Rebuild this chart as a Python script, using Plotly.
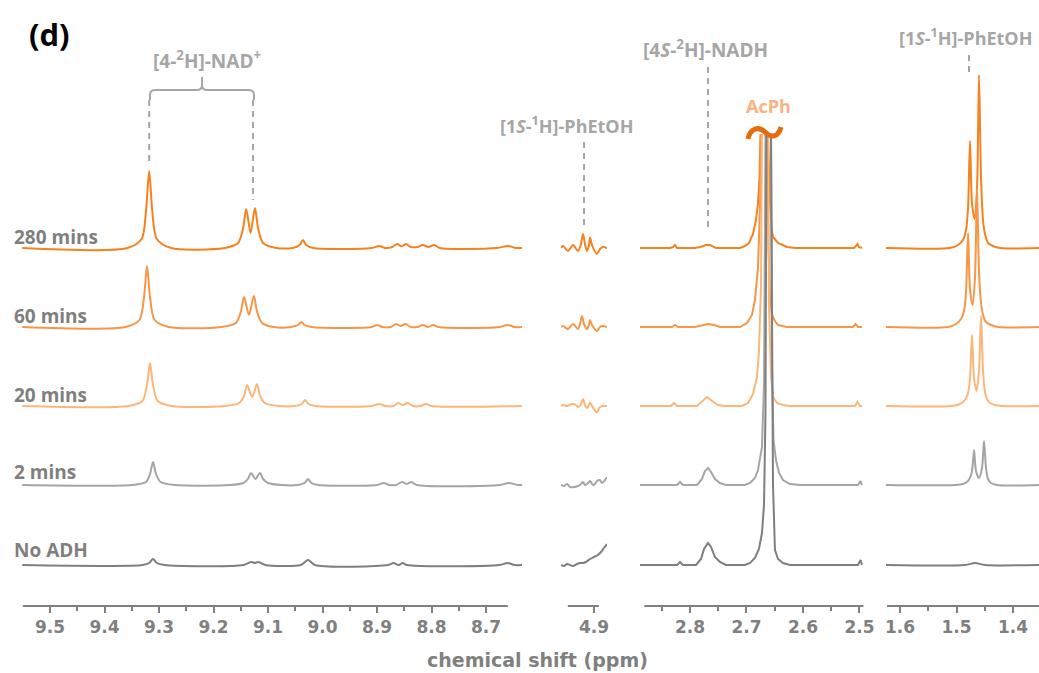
import plotly.graph_objects as go

W, H = 1039, 673

# ---------------- data (chemical shift in ppm, intensity in arbitrary units) ----------------
TRACE_LABELS = ["280 mins", "60 mins", "20 mins", "2 mins", "No ADH"]
STACK_OFFSETS = [358, 279, 200, 121, 41]
TRACE_COLORS = ["#F5821F", "#F79646", "#FBB679", "#A5A5A5", "#7F7F7F"]

# Panel 1: 9.55 - 8.63 ppm
P1_X_280 = [9.551, 9.358, 9.332, 9.3238, 9.318, 9.3125, 9.304, 9.278, 9.18, 9.155, 9.146, 9.140, 9.132, 9.124, 9.118, 9.109, 9.085, 9.055, 9.042, 9.036, 9.030, 9.017, 8.91, 8.896, 8.885, 8.872, 8.863, 8.855, 8.847, 8.838, 8.826, 8.816, 8.806, 8.795, 8.785, 8.68, 8.66, 8.645, 8.634]
P1_Y_280 = [0, 0, 9, 38, 77, 38, 9, 0, 0, 5, 19, 39, 15, 40, 19, 5, 0, 0, 3, 8, 3, 0, 0, 2, 0, 1, 4, 1.5, 4, 1, 1, 3, 1, 3, 0, 0, 2, 0, 0]
P1_X_60 = [9.551, 9.362, 9.336, 9.3275, 9.322, 9.3165, 9.308, 9.282, 9.185, 9.159, 9.150, 9.144, 9.135, 9.126, 9.120, 9.111, 9.090, 9.058, 9.045, 9.039, 9.033, 9.020, 8.91, 8.900, 8.890, 8.875, 8.865, 8.857, 8.848, 8.838, 8.826, 8.816, 8.806, 8.797, 8.787, 8.675, 8.661, 8.648, 8.634]
P1_Y_60 = [0, 0, 7, 30, 61, 30, 7, 0, 0, 4, 15, 30, 12, 31, 15, 4, 0, 0, 2, 5, 2, 0, 0, 2, 0, 0, 3, 1, 3, 0, 0, 2, 0, 2, 0, 0, 2, 0, 0]
P1_X_20 = [9.551, 9.356, 9.3305, 9.322, 9.3165, 9.311, 9.3025, 9.277, 9.18, 9.153, 9.144, 9.1385, 9.129, 9.1202, 9.1145, 9.106, 9.08, 9.051, 9.038, 9.032, 9.026, 9.013, 8.91, 8.896, 8.885, 8.87, 8.861, 8.853, 8.844, 8.834, 8.82, 8.81, 8.8, 8.634]
P1_Y_20 = [0, 0, 5, 21, 43, 21, 5, 0, 0, 3, 10, 21, 9, 22, 10, 3, 0, 0, 2, 6, 2, 0, 0, 2, 0, 0, 3, 1, 3, 0, 0, 2, 0, 0]
P1_X_2 = [9.551, 9.35, 9.324, 9.3165, 9.311, 9.3055, 9.297, 9.27, 9.17, 9.145, 9.137, 9.1312, 9.123, 9.1147, 9.109, 9.1, 9.075, 9.046, 9.033, 9.0266, 9.0205, 9.007, 8.9, 8.888, 8.877, 8.865, 8.854, 8.846, 8.837, 8.827, 8.675, 8.658, 8.642, 8.634]
P1_Y_2 = [0, 0, 3, 11, 23, 11, 3, 0, 0, 2, 6, 12, 6, 12, 6, 2, 0, 0, 2, 6, 2, 0, 0, 2, 0, 0, 3, 1, 3, 0, 0, 2, 0, 0]
P1_X_0 = [9.551, 9.33, 9.318, 9.311, 9.304, 9.29, 9.145, 9.131, 9.124, 9.118, 9.105, 9.04, 9.0266, 9.014, 8.88, 8.87, 8.86, 8.853, 8.845, 8.675, 8.661, 8.648, 8.634]
P1_Y_0 = [0, 0, 2, 6, 2, 0, 0, 3, 2, 3, 0, 0, 5, 0, 0, 2, 0, 2, 0, 0, 2, 0, 0]

# Panel 2: ~4.96 - 4.88 ppm
P2_X_280 = [4.9606, 4.9569, 4.9477, 4.9385, 4.9294, 4.9239, 4.9202, 4.9165, 4.9128, 4.9092, 4.9073, 4.9037, 4.8945, 4.889, 4.8835, 4.8761]
P2_Y_280 = [0, 2, -3, 3, -3, 4, 14, 4, -3, 3, 10.6, 3, -6, -1, 1, 0]
P2_X_60 = [4.9606, 4.9569, 4.9477, 4.9385, 4.9294, 4.9257, 4.922, 4.9183, 4.9128, 4.9092, 4.9073, 4.9037, 4.8945, 4.889, 4.8835, 4.8761]
P2_Y_60 = [0, 1, -2, 3, -2, 3, 11, 3, -2, 2, 7, 2, -4, 0, 1, 0]
P2_X_20 = [4.9606, 4.9569, 4.9495, 4.9404, 4.933, 4.9294, 4.9239, 4.9202, 4.9165, 4.9128, 4.9092, 4.9073, 4.9037, 4.8945, 4.889, 4.8835, 4.8761]
P2_Y_20 = [0, 1, 0, 2, 1, -1, 2, 7, 1, -2, 1, 3.5, 0, -6.5, -1, 0, 0]
P2_X_2 = [4.9606, 4.955, 4.9495, 4.944, 4.9367, 4.9294, 4.9239, 4.9202, 4.9165, 4.911, 4.9073, 4.9037, 4.9, 4.8945, 4.889, 4.8853, 4.8798, 4.8761]
P2_Y_2 = [0, -1, 1, -2, -2, -1, 1, 3, 0, 2, 4, 1, 0, 4, 5, 2, 5, 8]
P2_X_0 = [4.9606, 4.955, 4.9495, 4.944, 4.9385, 4.9312, 4.9257, 4.9202, 4.9147, 4.9073, 4.9, 4.8927, 4.8872, 4.8817, 4.8761]
P2_Y_0 = [0, -1, 1, 0, -1, 1, 2, 2, 3, 6, 8, 10, 13, 17, 21]

# Panel 3: 2.89 - 2.49 ppm (AcPh peak top is cut off in the original)
P3_X_280 = [2.8885, 2.8354, 2.8301, 2.8265, 2.823, 2.7912, 2.7823, 2.7717, 2.7646, 2.754, 2.7115, 2.7027, 2.6956, 2.6885, 2.6832, 2.6796, 2.677, 2.6752, None, 2.6619, 2.6584, 2.6558, 2.6531, 2.6442, 2.6283, 2.6142, 2.5097, 2.5062, 2.5035, 2.5009, 2.4956]
P3_Y_280 = [0, 0, 1, 3, 0, 0, 1, 3, 3, 0, 0, 2, 5, 14, 28, 45, 70, 114, None, 114, 45, 20, 11, 5, 1, 0, 0, 2, 4, 1, 0]
P3_X_60 = [2.8885, 2.8319, 2.8265, 2.8212, 2.7912, 2.7788, 2.7681, 2.7575, 2.7469, 2.7115, 2.6991, 2.6903, 2.685, 2.6796, 2.6761, 2.6743, None, 2.6637, 2.661, 2.6584, 2.6549, 2.6496, 2.6442, 2.6283, 2.5115, 2.5071, 2.5027, 2.4956]
P3_Y_60 = [0, 0, 2, 0, 0, 2, 3, 2, 0, 0, 4, 12, 27, 60, 120, 193, None, 193, 80, 30, 12, 6, 2, 0, 0, 3, 0, 0]
P3_X_20 = [2.8885, 2.8336, 2.8283, 2.823, 2.7876, 2.7788, 2.7699, 2.7611, 2.7504, 2.738, 2.708, 2.6973, 2.6885, 2.6814, 2.6779, 2.6743, 2.6726, None, 2.6619, 2.6602, 2.6566, 2.6531, 2.646, 2.6354, 2.623, 2.508, 2.5035, 2.4991, 2.4956]
P3_Y_20 = [0, 0, 3, 0, 0, 4, 9, 5, 1, 0, 0, 3, 12, 29, 55, 120, 272, None, 272, 100, 30, 9, 3, 1, 0, 0, 4, 0, 0]
P3_X_2 = [2.8885, 2.823, 2.8177, 2.8124, 2.7876, 2.7788, 2.7735, 2.7681, 2.7628, 2.7558, 2.7469, 2.7363, 2.7027, 2.6938, 2.685, 2.6796, 2.6726, 2.669, 2.6664, None, 2.6566, 2.6549, 2.6522, 2.6478, 2.6425, 2.6354, 2.623, 2.6053, 2.5027, 2.4982, 2.4956]
P3_Y_2 = [0, 0, 3, 0, 0, 6, 14, 17, 13, 6, 2, 0, 0, 2, 7, 15, 38, 100, 351, None, 351, 120, 45, 25, 12, 5, 1, 0, 0, 4, 0]
P3_X_0 = [2.8885, 2.823, 2.8177, 2.8124, 2.7894, 2.7805, 2.7752, 2.7681, 2.7628, 2.7558, 2.7469, 2.7363, 2.7027, 2.6938, 2.685, 2.6779, 2.6726, 2.669, 2.6664, 2.6646, None, 2.6566, 2.6549, 2.6531, 2.6496, 2.6442, 2.6354, 2.623, 2.5027, 2.4982, 2.4956]
P3_Y_0 = [0, 0, 3, 0, 0, 6, 16, 22, 18, 8, 3, 0, 0, 2, 7, 16, 32, 60, 150, 431, None, 431, 200, 80, 15, 6, 2, 0, 0, 5, 0]

# Panel 4: 1.62 - 1.35 ppm
P4_X_280 = [1.6248, 1.5115, 1.4973, 1.4885, 1.4832, 1.4796, 1.4761, 1.4726, 1.4681, 1.4637, 1.4602, 1.4566, 1.4531, 1.4496, 1.4442, 1.4354, 1.423, 1.354]
P4_Y_280 = [0, 0, 3, 8, 18, 40, 107, 45, 29, 60, 173, 70, 28, 14, 5, 2, 0, 0]
P4_X_60 = [1.6248, 1.515, 1.5009, 1.492, 1.4867, 1.4832, 1.4796, 1.4761, 1.4717, 1.4673, 1.4637, 1.4602, 1.4566, 1.4531, 1.4478, 1.4389, 1.4265, 1.354]
P4_Y_60 = [0, 0, 3, 8, 16, 35, 94, 38, 22, 50, 139, 55, 24, 12, 5, 2, 0, 0]
P4_X_20 = [1.6248, 1.508, 1.4938, 1.485, 1.4796, 1.4761, 1.4726, 1.469, 1.4646, 1.4602, 1.4566, 1.4531, 1.4496, 1.446, 1.4407, 1.4319, 1.4195, 1.354]
P4_Y_20 = [0, 0, 2, 6, 13, 28, 71, 28, 15, 35, 90, 35, 14, 7, 3, 1, 0, 0]
P4_X_2 = [1.6248, 1.5027, 1.4885, 1.4796, 1.4743, 1.4717, 1.469, 1.4655, 1.4602, 1.4549, 1.4513, 1.4478, 1.4442, 1.4389, 1.4283, 1.354]
P4_Y_2 = [0, 0, 1, 4, 10, 18, 35, 14, 7, 17, 44, 17, 6, 2, 0, 0]
P4_X_0 = [1.6248, 1.485, 1.4673, 1.4496, 1.354]
P4_Y_0 = [0, 0, 2, 0, 0]

# Axis definitions
P1_TICKS = [9.5, 9.4, 9.3, 9.2, 9.1, 9.0, 8.9, 8.8, 8.7]
P1_MINOR = [9.45, 9.35, 9.25, 9.15, 9.05, 8.95, 8.85, 8.75]
P2_TICKS = [4.9]
P3_TICKS = [2.8, 2.7, 2.6, 2.5]
P3_MINOR = [2.85, 2.75, 2.65, 2.55]
P4_TICKS = [1.6, 1.5, 1.4]
P4_MINOR = [1.55, 1.45]

PANELS = [
    dict(xs=[P1_X_280, P1_X_60, P1_X_20, P1_X_2, P1_X_0], ys=[P1_Y_280, P1_Y_60, P1_Y_20, P1_Y_2, P1_Y_0],
         dom=(22, 522), rng=(9.5514, 8.634), line=(9.55, 8.66), ticks=P1_TICKS, minor=P1_MINOR, shape="spline"),
    dict(xs=[P2_X_280, P2_X_60, P2_X_20, P2_X_2, P2_X_0], ys=[P2_Y_280, P2_Y_60, P2_Y_20, P2_Y_2, P2_Y_0],
         dom=(561, 607), rng=(4.9606, 4.8761), line=(4.948, 4.891), ticks=P2_TICKS, minor=[], shape="spline"),
    dict(xs=[P3_X_280, P3_X_60, P3_X_20, P3_X_2, P3_X_0], ys=[P3_Y_280, P3_Y_60, P3_Y_20, P3_Y_2, P3_Y_0],
         dom=(640, 864), rng=(2.8885, 2.492), line=(2.881, 2.493), ticks=P3_TICKS, minor=P3_MINOR, shape="linear"),
    dict(xs=[P4_X_280, P4_X_60, P4_X_20, P4_X_2, P4_X_0], ys=[P4_Y_280, P4_Y_60, P4_Y_20, P4_Y_2, P4_Y_0],
         dom=(886, 1039), rng=(1.6248, 1.354), line=(1.623, 1.354), ticks=P4_TICKS, minor=P4_MINOR, shape="spline"),
]

AXIS_GRAY = "#808080"
LABEL_GRAY = "#A6A6A6"


def px(x):
    return x / W


def py(y):
    return 1 - y / H


AXIS_Y_PX = 606

fig = go.Figure()
layout = dict(
    width=W, height=H, autosize=False,
    margin=dict(l=0, r=0, t=0, b=0, pad=0, autoexpand=False),
    paper_bgcolor="white", plot_bgcolor="white", showlegend=False,
    yaxis=dict(domain=[py(AXIS_Y_PX), 1], range=[0, AXIS_Y_PX], visible=False, fixedrange=True,
               automargin=False),
)
shapes = []
for i, p in enumerate(PANELS):
    xa = "x" if i == 0 else f"x{i + 1}"
    key = "xaxis" if i == 0 else f"xaxis{i + 1}"
    for k in range(len(TRACE_LABELS)):
        ys = [None if v is None else v + STACK_OFFSETS[k] for v in p["ys"][k]]
        fig.add_trace(go.Scatter(
            x=p["xs"][k], y=ys, mode="lines", xaxis=xa, yaxis="y",
            line=dict(color=TRACE_COLORS[k], width=2, shape=p["shape"], smoothing=0.8),
            connectgaps=False, hoverinfo="skip", name=TRACE_LABELS[k]))
    ax = dict(
        domain=[px(p["dom"][0]), px(p["dom"][1])], range=list(p["rng"]), anchor="y",
        showgrid=False, zeroline=False, showline=False, automargin=False,
        tickmode="array", tickvals=p["ticks"], ticktext=[f"{v:.1f}" for v in p["ticks"]],
        ticks="outside", ticklen=6, tickwidth=2, tickcolor=AXIS_GRAY,
        tickfont=dict(family="DejaVu Sans", size=17, color=AXIS_GRAY, weight="bold"),
        fixedrange=True,
    )
    if p["minor"]:
        ax["minor"] = dict(tickmode="array", tickvals=p["minor"], ticks="outside",
                           ticklen=4, tickwidth=2, tickcolor=AXIS_GRAY, showgrid=False)
    layout[key] = ax
    shapes.append(dict(type="line", xref=xa, yref="paper", x0=p["line"][0], x1=p["line"][1],
                       y0=py(AXIS_Y_PX), y1=py(AXIS_Y_PX), line=dict(color=AXIS_GRAY, width=2)))

# dashed assignment lines (x in ppm)
DASH = dict(color=LABEL_GRAY, width=2, dash="6px,5px")
for xa, xv, ya, yb in [("x", 9.318, 100, 165), ("x", 9.1275, 100, 200), ("x2", 4.9183, 142, 225),
                       ("x3", 2.7681, 67, 230), ("x4", 1.4779, 55, 76)]:
    shapes.append(dict(type="line", xref=xa, yref="paper", x0=xv, x1=xv, y0=py(ya), y1=py(yb), line=DASH))


def path(cmds):
    out = []
    for c in cmds:
        if isinstance(c, str):
            out.append(c)
        else:
            out.append(f"{px(c[0]):.5f},{py(c[1]):.5f}")
    return " ".join(out)


# curly bracket over the NAD+ signals
bracket = path(["M", (150, 100), "L", (150, 95), "Q", (150, 90), (155, 90), "L", (197, 90),
                "Q", (202, 90), (202, 85), "L", (202, 77), "M", (202, 85), "Q", (202, 90), (207, 90),
                "L", (249, 90), "Q", (254, 90), (254, 95), "L", (254, 100)])
shapes.append(dict(type="path", xref="paper", yref="paper", path=bracket, line=dict(color=LABEL_GRAY, width=2)))

# axis-break squiggle over the AcPh peak
squig = path(["M", (748, 139), "C", (750, 128), (759, 126), (765, 132), "C", (771, 138), (778, 138), (781, 127)])
shapes.append(dict(type="path", xref="paper", yref="paper", path=squig, line=dict(color="#E46C0A", width=5)))

annotations = []
for lab, yy in zip(TRACE_LABELS, [237, 316, 395, 472, 550]):
    annotations.append(dict(text=lab, x=px(12), y=py(yy), xref="paper", yref="paper", xanchor="left",
                            yanchor="middle", showarrow=False,
                            font=dict(family="Open Sans", size=19, color="#7F7F7F", weight="bold")))
for txt, xx, yy, anc, sz in [("[4-<sup>2</sup>H]-NAD<sup>+</sup>", 207, 60, "center", 19),
                             ("[1<i>S</i>-<sup>1</sup>H]-PhEtOH", 566, 125, "center", 18),
                             ("[4<i>S</i>-<sup>2</sup>H]-NADH", 705, 49, "center", 19),
                             ("[1<i>S</i>-<sup>1</sup>H]-PhEtOH", 897, 37, "left", 18)]:
    annotations.append(dict(text=txt, x=px(xx), y=py(yy), xref="paper", yref="paper", xanchor=anc,
                            yanchor="middle", showarrow=False,
                            font=dict(family="Open Sans", size=sz, color=LABEL_GRAY, weight="bold")))
annotations.append(dict(text="AcPh", x=px(768), y=py(106), xref="paper", yref="paper", showarrow=False,
                        xanchor="center", yanchor="middle",
                        font=dict(family="Open Sans", size=18, color="#FAB27E", weight="bold")))
annotations.append(dict(text="(d)", x=px(27), y=py(34), xref="paper", yref="paper", xanchor="left",
                        yanchor="middle", showarrow=False,
                        font=dict(family="Open Sans", size=31, color="black", weight="bold")))
annotations.append(dict(text="chemical shift (ppm)", x=px(537), y=py(660), xref="paper", yref="paper",
                        xanchor="center", yanchor="middle", showarrow=False,
                        font=dict(family="DejaVu Sans", size=19, color=AXIS_GRAY, weight="bold")))

layout["shapes"] = shapes
layout["annotations"] = annotations
fig.update_layout(**layout)
fig.write_html("out.html")
